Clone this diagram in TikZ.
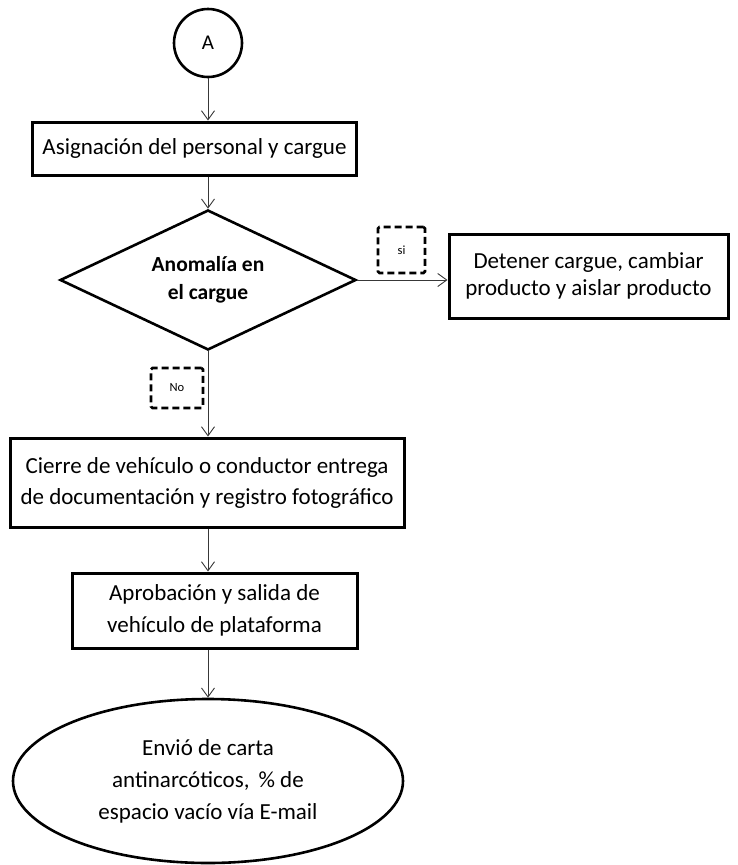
\documentclass[tikz,border=0pt]{standalone}
\usepackage{fontspec}
\setmainfont{Carlito}
\usetikzlibrary{shapes.geometric,arrows.meta}

\tikzset{
  x=1pt, y=1pt,
  proc/.style={draw=black, line width=3pt, rectangle, align=center,
    inner sep=0pt, font=\fontsize{23}{31}\selectfont},
  decision/.style={draw=black, line width=2.6pt, diamond, aspect=2.11, align=center,
    inner sep=0pt, font=\bfseries\fontsize{21.5}{28}\selectfont},
  terminal/.style={draw=black, line width=2.6pt, ellipse, align=center,
    inner sep=0pt, font=\fontsize{23}{32}\selectfont},
  connector/.style={draw=black, line width=2.6pt, circle, inner sep=0pt,
    minimum size=68pt, font=\fontsize{21}{24}\selectfont},
  tag/.style={draw=black, line width=2.6pt, dash pattern=on 7pt off 4pt,
    rounded corners=1.5pt, inner sep=0pt, font=\fontsize{12.5}{14}\selectfont},
  flow/.style={draw=black!78, line width=0.9pt,
    -{Straight Barb[length=9pt,width=13pt,line width=0.9pt]}}
}

\begin{document}
\begin{tikzpicture}
  \useasboundingbox (0,0) rectangle (738,-865);

  % main column of the chart
  \coordinate (spine) at (208,0);
  \node[connector] (A) at (208,-43) {A};
  \node[proc, minimum width=324pt, minimum height=53pt] (asig) at (194.5,-148.5)
    {Asignación del personal y cargue};
  \node[decision, minimum width=296pt, minimum height=140pt] (anom) at (208,-280)
    {Anomalía en\\el cargue};
  \node[proc, font=\fontsize{23}{27}\selectfont, minimum width=279pt, minimum height=84pt]
    (deten) at (588.5,-276) {Detener cargue, cambiar\\producto y aislar producto};
  \node[proc, minimum width=394pt, minimum height=89pt] (cierre) at (207,-482.5)
    {Cierre de vehículo o conductor entrega\\de documentación y registro fotográfico};
  \node[proc, font=\fontsize{23}{32}\selectfont, minimum width=285pt, minimum height=75pt]
    (aprob) at (214.5,-610.5) {Aprobación y salida de\\vehículo de plataforma};
  \node[terminal, minimum width=390pt, minimum height=164pt] (envio) at (208,-781)
    {Envió de carta\\antinarcóticos, \,\% de\\espacio vacío vía E-mail};

  % branch labels
  \node[tag, minimum width=47pt, minimum height=46pt] (si) at (401.5,-250) {si};
  \node[tag, minimum width=52pt, minimum height=40pt] (no) at (177,-388) {No};

  % connectors
  \draw[flow] (A.south) -- (spine |- asig.north);
  \draw[flow] (spine |- asig.south) -- (anom.north);
  \draw[flow] (anom.east) -- (anom.east -| deten.west);
  \draw[flow] (anom.south) -- (spine |- cierre.north);
  \draw[flow] (spine |- cierre.south) -- (spine |- aprob.north);
  \draw[flow] (spine |- aprob.south) -- (envio.north);
\end{tikzpicture}
\end{document}
